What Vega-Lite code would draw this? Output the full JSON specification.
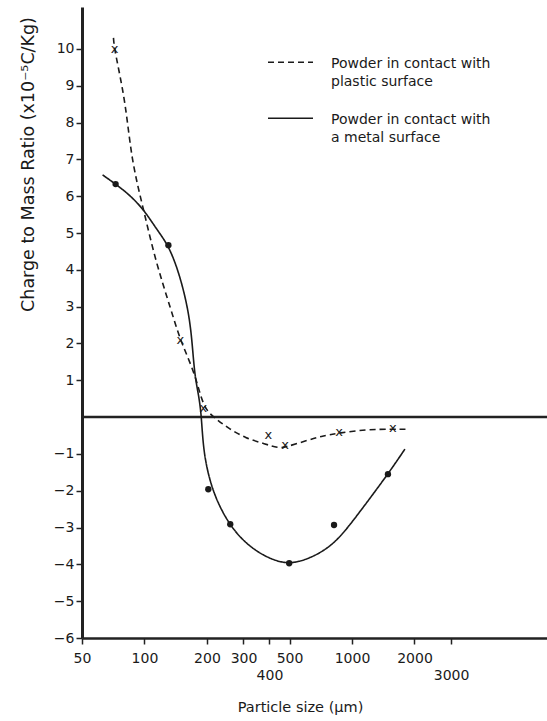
{
  "$schema": "https://vega.github.io/schema/vega-lite/v6.json",
  "width": 465,
  "height": 631,
  "autosize": "none",
  "padding": {"left": 82, "top": 7, "right": 0, "bottom": 83},
  "background": "white",
  "config": {
    "view": {"stroke": null},
    "font": "DejaVu Sans",
    "axis": {"grid": false},
    "style": {"guide-label": {"lineHeight": 18}}
  },
  "datasets": {
    "curves": [
      {"series": "plastic", "x": 70.9, "y": 10.3},
      {"series": "plastic", "x": 71.7, "y": 9.97},
      {"series": "plastic", "x": 81.0, "y": 8.59},
      {"series": "plastic", "x": 86.6, "y": 6.96},
      {"series": "plastic", "x": 98.9, "y": 5.65},
      {"series": "plastic", "x": 113, "y": 4.24},
      {"series": "plastic", "x": 134.9, "y": 2.88},
      {"series": "plastic", "x": 149, "y": 2.07},
      {"series": "plastic", "x": 175.9, "y": 1.17},
      {"series": "plastic", "x": 192, "y": 0.24},
      {"series": "plastic", "x": 219, "y": -0.03},
      {"series": "plastic", "x": 253, "y": -0.3},
      {"series": "plastic", "x": 306, "y": -0.57},
      {"series": "plastic", "x": 382, "y": -0.73},
      {"series": "plastic", "x": 441, "y": -0.84},
      {"series": "plastic", "x": 476, "y": -0.82},
      {"series": "plastic", "x": 594, "y": -0.65},
      {"series": "plastic", "x": 710, "y": -0.52},
      {"series": "plastic", "x": 866, "y": -0.43},
      {"series": "plastic", "x": 1194, "y": -0.33},
      {"series": "plastic", "x": 1574, "y": -0.33},
      {"series": "plastic", "x": 1858, "y": -0.33},
      {"series": "metal", "x": 62.8, "y": 6.58},
      {"series": "metal", "x": 72.6, "y": 6.33},
      {"series": "metal", "x": 83.8, "y": 6.06},
      {"series": "metal", "x": 98.9, "y": 5.65},
      {"series": "metal", "x": 114.2, "y": 5.11},
      {"series": "metal", "x": 130.4, "y": 4.67},
      {"series": "metal", "x": 145.7, "y": 3.97},
      {"series": "metal", "x": 159.2, "y": 3.15},
      {"series": "metal", "x": 168.3, "y": 2.34},
      {"series": "metal", "x": 174, "y": 1.17},
      {"series": "metal", "x": 182, "y": 0.63},
      {"series": "metal", "x": 188, "y": 0.08},
      {"series": "metal", "x": 192, "y": -0.92},
      {"series": "metal", "x": 207.6, "y": -1.82},
      {"series": "metal", "x": 234.5, "y": -2.55},
      {"series": "metal", "x": 276.9, "y": -3.18},
      {"series": "metal", "x": 341.8, "y": -3.64},
      {"series": "metal", "x": 426, "y": -3.91},
      {"series": "metal", "x": 509, "y": -3.99},
      {"series": "metal", "x": 635, "y": -3.83},
      {"series": "metal", "x": 828, "y": -3.45},
      {"series": "metal", "x": 1069, "y": -2.64},
      {"series": "metal", "x": 1490, "y": -1.55},
      {"series": "metal", "x": 1798, "y": -0.87}
    ],
    "crosses": [
      {"x": 71.7, "y": 9.97},
      {"x": 149, "y": 2.07},
      {"x": 192, "y": 0.22},
      {"x": 395, "y": -0.52},
      {"x": 476, "y": -0.79},
      {"x": 866, "y": -0.43},
      {"x": 1574, "y": -0.33}
    ],
    "dots": [
      {"x": 72.6, "y": 6.33},
      {"x": 130.4, "y": 4.67},
      {"x": 203, "y": -1.96},
      {"x": 259, "y": -2.91},
      {"x": 498, "y": -3.97},
      {"x": 819, "y": -2.93},
      {"x": 1490, "y": -1.55}
    ],
    "zero": [{"y": 0}]
  },
  "resolve": {"axis": {"x": "independent"}},
  "layer": [
    {
      "data": {"name": "zero"},
      "mark": {"type": "rule", "strokeWidth": 2.5, "color": "#222"},
      "encoding": {
        "y": {"field": "y", "type": "quantitative", "scale": {"domain": [-6, 11.14], "nice": false, "zero": false}}
      }
    },
    {
      "data": {"name": "curves"},
      "mark": {"type": "line", "interpolate": "basis", "strokeWidth": 1.6, "color": "#1a1a1a"},
      "encoding": {
        "x": {
          "field": "x", "type": "quantitative",
          "scale": {"type": "log", "domain": [50, 8700], "nice": false},
          "axis": {
            "orient": "bottom",
            "values": [50, 100, 200, 300, 500, 1000, 2000],
            "format": "d",
            "title": "Particle size (µm)",
            "titleX": 218, "titleY": 69, "titleBaseline": "middle",
            "titleFontSize": 14.5, "titleFontWeight": "normal", "titleColor": "#1a1a1a",
            "labelFontSize": 14, "labelColor": "#1a1a1a", "labelPadding": 7,
            "labelFlush": false, "labelOverlap": false,
            "tickSize": 6, "tickWidth": 1.5, "tickColor": "#222",
            "domainWidth": 2.5, "domainColor": "#222"
          }
        },
        "y": {
          "field": "y", "type": "quantitative",
          "scale": {"domain": [-6, 11.14], "nice": false, "zero": false},
          "axis": {
            "values": [-6, -5, -4, -3, -2, -1, 1, 2, 3, 4, 5, 6, 7, 8, 9, 10],
            "title": "Charge to Mass Ratio  (x10⁻⁵C/Kg)",
            "titleX": -54, "titleY": 157, "titleBaseline": "middle",
            "titleFontSize": 17.5, "titleFontWeight": "normal", "titleColor": "#1a1a1a",
            "labelFontSize": 14, "labelColor": "#1a1a1a", "labelPadding": 2,
            "labelFlush": false, "labelOverlap": false,
            "tickSize": 6, "tickWidth": 1.5, "tickColor": "#222",
            "domainWidth": 3, "domainColor": "#222"
          }
        },
        "strokeDash": {
          "field": "series", "type": "nominal",
          "scale": {"domain": ["plastic", "metal"], "range": [[6, 4], [1, 0]]},
          "legend": {
            "title": null,
            "orient": "none", "legendX": 185, "legendY": 37,
            "padding": 0,
            "symbolType": "M-1,-0.23L1,-0.23",
            "symbolSize": 2025,
            "symbolStrokeWidth": 1.5,
            "symbolStrokeColor": "#1a1a1a",
            "labelExpr": "datum.value == 'plastic' ? ['Powder in contact with', 'plastic surface'] : ['Powder in contact with', 'a metal surface']",
            "labelFontSize": 14, "labelColor": "#1a1a1a",
            "labelBaseline": "alphabetic",
            "labelOffset": 17, "labelLimit": 400,
            "rowPadding": 11
          }
        }
      }
    },
    {
      "data": {"name": "crosses"},
      "mark": {"type": "text", "text": "x", "fontSize": 13, "color": "#1a1a1a", "baseline": "middle", "dy": -1},
      "encoding": {
        "x": {"field": "x", "type": "quantitative", "scale": {"type": "log", "domain": [50, 8700], "nice": false}, "axis": null},
        "y": {"field": "y", "type": "quantitative", "scale": {"domain": [-6, 11.14], "nice": false, "zero": false}}
      }
    },
    {
      "data": {"name": "dots"},
      "mark": {"type": "circle", "size": 40, "color": "#1a1a1a", "opacity": 1},
      "encoding": {
        "x": {
          "field": "x", "type": "quantitative",
          "scale": {"type": "log", "domain": [50, 8700], "nice": false},
          "axis": {
            "orient": "bottom",
            "values": [400, 3000],
            "format": "d",
            "title": null,
            "domain": false,
            "labelFontSize": 14, "labelColor": "#1a1a1a", "labelPadding": 24,
            "labelFlush": false, "labelOverlap": false,
            "tickSize": 6, "tickWidth": 1.5, "tickColor": "#222"
          }
        },
        "y": {"field": "y", "type": "quantitative", "scale": {"domain": [-6, 11.14], "nice": false, "zero": false}}
      }
    }
  ]
}
